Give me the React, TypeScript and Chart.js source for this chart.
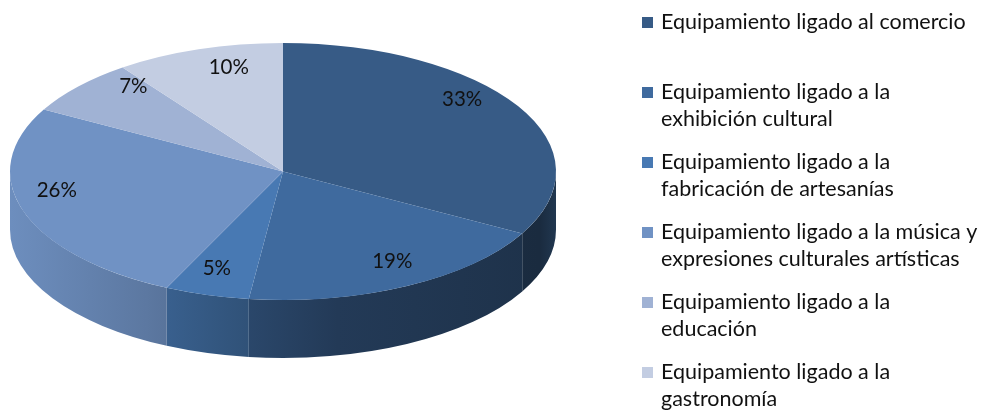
import { useEffect, useRef } from "react";
import { Chart, registerables } from "chart.js";

Chart.register(...registerables);

const categories: string[][] = [
  ["Equipamiento ligado al comercio"],
  ["Equipamiento ligado a la", "exhibición cultural"],
  ["Equipamiento ligado a la", "fabricación de artesanías"],
  ["Equipamiento ligado a la música y", "expresiones culturales artísticas"],
  ["Equipamiento ligado a la", "educación"],
  ["Equipamiento ligado a la", "gastronomía"],
];
const values = [33, 19, 5, 26, 7, 10];
const colors = ["#375B86", "#3F6A9E", "#4879B3", "#7092C4", "#A0B2D4", "#C3CDE2"];

const FONT = "Lato, 'Noto Sans', sans-serif";
const DEPTH = 58;

function shade(hex: string, f: number): string {
  const n = parseInt(hex.slice(1), 16);
  const r = Math.round(((n >> 16) & 255) * f);
  const g = Math.round(((n >> 8) & 255) * f);
  const b = Math.round((n & 255) * f);
  return `rgb(${r},${g},${b})`;
}

function geom(chart: any) {
  const meta = chart.getDatasetMeta(0);
  const a0 = meta.data[0] as any;
  const ca = chart.chartArea;
  const cx = a0.x;
  const cy = a0.y;
  const r = a0.outerRadius;
  const rx = ca.width / 2;
  const ry = r;
  return { meta, cx, cy, r, rx, ry, sx: rx / r };
}

const pie3d = {
  id: "pie3d",
  beforeDatasetsDraw(chart: any) {
    const ctx = chart.ctx as CanvasRenderingContext2D;
    const { meta, cx, cy, rx, ry, sx } = geom(chart);
    meta.data.forEach((arc: any, i: number) => {
      const s = Math.max(arc.startAngle, 0);
      const e = Math.min(arc.endAngle, Math.PI);
      if (s >= e) return;
      const col = colors[i];
      const grad = ctx.createLinearGradient(cx - rx, 0, cx + rx, 0);
      grad.addColorStop(0, shade(col, 0.97));
      grad.addColorStop(0.25, shade(col, 0.82));
      grad.addColorStop(0.4, shade(col, 0.7));
      grad.addColorStop(0.6, shade(col, 0.55));
      grad.addColorStop(0.97, shade(col, 0.47));
      grad.addColorStop(1, shade(col, 0.6));
      ctx.save();
      ctx.beginPath();
      ctx.ellipse(cx, cy, rx, ry, 0, s, e, false);
      ctx.ellipse(cx, cy + DEPTH, rx, ry, 0, e, s, true);
      ctx.closePath();
      ctx.fillStyle = grad;
      ctx.fill();
      ctx.restore();
    });
    ctx.save();
    ctx.translate(cx, cy);
    ctx.scale(sx, 1);
    ctx.translate(-cx, -cy);
  },
  afterDatasetsDraw(chart: any) {
    const ctx = chart.ctx as CanvasRenderingContext2D;
    ctx.restore();
    const { meta, cx, cy, rx, ry } = geom(chart);
    const total = values.reduce((a, b) => a + b, 0);
    ctx.save();
    ctx.font = `20.5px ${FONT}`;
    ctx.fillStyle = "#111";
    ctx.textAlign = "center";
    ctx.textBaseline = "middle";
    meta.data.forEach((arc: any, i: number) => {
      const mid = (arc.startAngle + arc.endAngle) / 2;
      const sn = Math.sin(mid);
      const cs = Math.cos(mid);
      const f = 0.72 + 0.12 * sn + 0.12 * Math.abs(cs);
      const x = cx + rx * f * cs;
      const y = cy + ry * f * sn - 18 + 8 * sn;
      ctx.fillText(Math.round((values[i] / total) * 100) + "%", x, y);
    });
    ctx.restore();
  },
  afterDraw(chart: any) {
    const ctx = chart.ctx as CanvasRenderingContext2D;
    ctx.save();
    ctx.font = `21.5px ${FONT}`;
    ctx.textBaseline = "middle";
    ctx.textAlign = "left";
    categories.forEach((lines, i) => {
      const y0 = 22 + 70 * i;
      ctx.fillStyle = colors[i];
      ctx.fillRect(642, y0 - 5, 11, 11);
      ctx.fillStyle = "#111";
      lines.forEach((t, k) => ctx.fillText(t, 661, y0 + 27.5 * k));
    });
    ctx.restore();
  },
};

export default function App() {
  const ref = useRef<HTMLCanvasElement>(null);
  useEffect(() => {
    if (!ref.current) return;
    const chart = new Chart(ref.current, {
      type: "pie",
      data: {
        labels: categories.map((l) => l.join(" ")),
        datasets: [
          {
            data: values,
            backgroundColor: colors,
            borderWidth: 0,
            clip: false,
          } as any,
        ],
      },
      options: {
        responsive: false,
        animation: false,
        layout: { padding: { left: 10, right: 428, top: 43, bottom: 110 } },
        plugins: { legend: { display: false }, tooltip: { enabled: false } },
      },
      plugins: [pie3d],
    });
    return () => chart.destroy();
  }, []);
  return (
    <div style={{ position: "absolute", left: 0, top: 0, width: 984, height: 410, background: "#fff" }}>
      <canvas ref={ref} width={984} height={410} />
    </div>
  );
}
